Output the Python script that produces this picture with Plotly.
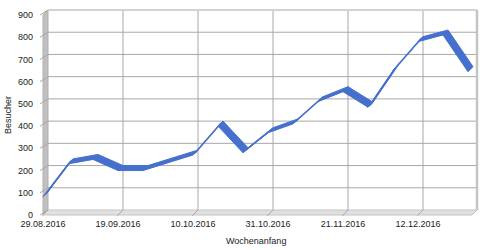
import plotly.graph_objects as go

# ---- data ----
week_labels = ["29.08.2016", "05.09.2016", "12.09.2016", "19.09.2016", "26.09.2016",
               "03.10.2016", "10.10.2016", "17.10.2016", "24.10.2016", "31.10.2016",
               "07.11.2016", "14.11.2016", "21.11.2016", "28.11.2016", "05.12.2016",
               "12.12.2016", "19.12.2016", "26.12.2016"]
visitors = [82, 230, 250, 200, 200, 235, 270, 400, 280, 370,
            410, 510, 555, 485, 650, 780, 810, 645]
y_ticks = [0, 100, 200, 300, 400, 500, 600, 700, 800, 900]
x_tick_idx = [0, 3, 6, 9, 12, 15]

FONT = "Liberation Sans, Arial, sans-serif"
FS = 9
TXT = "#222222"
BLUE = "#4670cd"
GRID = "#a8a8a8"

# 3D depth offset (in data units): 5px right, 5px up
DX = 0.2
DY = 22.5
YMAX = 900
XEND = len(week_labels) - 1 + 0.16   # front right edge of the floor

idx = list(range(len(visitors)))

fig = go.Figure()

# ---- ribbon (3D line) ----
px, py = [], []
for i in range(len(visitors) - 1):
    x0, x1 = idx[i], idx[i + 1]
    v0, v1 = visitors[i], visitors[i + 1]
    px += [x0, x1, x1 + DX, x0 + DX, x0, None]
    py += [v0, v1, v1 + DY, v0 + DY, v0, None]
fig.add_trace(go.Scatter(x=px, y=py, mode="lines", fill="toself",
                         fillcolor=BLUE, line=dict(color=BLUE, width=1),
                         hoverinfo="skip", showlegend=False))
# centre line so edge-on parts remain visible
fig.add_trace(go.Scatter(x=[i + DX / 2 for i in idx], y=[v + DY / 2 for v in visitors],
                         mode="lines", line=dict(color=BLUE, width=1.6),
                         hoverinfo="skip", showlegend=False))

shapes = []
# back wall
shapes.append(dict(type="rect", xref="x", yref="y", x0=DX, x1=XEND + DX, y0=DY, y1=YMAX + DY,
                   fillcolor="white", line=dict(width=0), layer="below"))
# left wall
shapes.append(dict(type="path", xref="x", yref="y",
                   path=f"M 0 0 L {DX} {DY} L {DX} {YMAX + DY} L 0 {YMAX} Z",
                   fillcolor="#c0c0c0", line=dict(color="#b0b0b0", width=1), layer="below"))
# floor
shapes.append(dict(type="path", xref="x", yref="y",
                   path=f"M 0 0 L {XEND} 0 L {XEND + DX} {DY} L {DX} {DY} Z",
                   fillcolor="#e0e0e0", line=dict(color="#c4c4c4", width=1), layer="below"))
# horizontal gridlines on back wall + diagonals on left wall
for v in y_ticks[1:-1]:
    shapes.append(dict(type="line", xref="x", yref="y", x0=DX, x1=XEND + DX,
                       y0=v + DY, y1=v + DY, line=dict(color=GRID, width=1), layer="below"))
for v in y_ticks:
    shapes.append(dict(type="line", xref="x", yref="y", x0=-0.12, x1=DX,
                       y0=v, y1=v + DY, line=dict(color=GRID, width=1), layer="below"))
# vertical gridlines on back wall + floor diagonals
for w in x_tick_idx[1:]:
    shapes.append(dict(type="line", xref="x", yref="y", x0=w + DX, x1=w + DX,
                       y0=DY, y1=YMAX + DY, line=dict(color=GRID, width=1), layer="below"))
for w in x_tick_idx:
    shapes.append(dict(type="line", xref="x", yref="y", x0=w + DX, x1=w - 0.03,
                       y0=DY, y1=-4, line=dict(color=GRID, width=1), layer="below"))
# top and right edge of back wall
shapes.append(dict(type="line", xref="x", yref="y", x0=DX, x1=XEND + DX,
                   y0=YMAX + DY, y1=YMAX + DY, line=dict(color="#d2d2d2", width=2), layer="below"))
shapes.append(dict(type="line", xref="x", yref="y", x0=XEND + DX, x1=XEND + DX,
                   y0=DY, y1=YMAX + DY, line=dict(color="#c4c4c4", width=2.5), layer="below"))

fig.update_layout(
    width=500, height=250,
    margin=dict(l=40, r=20, t=5, b=33),
    paper_bgcolor="white", plot_bgcolor="white",
    font=dict(family=FONT, size=FS, color=TXT),
    shapes=shapes,
    showlegend=False,
    xaxis=dict(range=[-0.12, 17.48], tickmode="array", tickvals=x_tick_idx,
               ticktext=[week_labels[i] for i in x_tick_idx],
               showgrid=False, zeroline=False, showline=False, ticks="",
               tickfont=dict(family=FONT, size=FS, color=TXT)),
    yaxis=dict(range=[-9, 945], tickmode="array", tickvals=y_ticks,
               showgrid=False, zeroline=False, showline=False, ticks="",
               ticklabelstandoff=6,
               tickfont=dict(family=FONT, size=FS, color=TXT)),
    annotations=[
        dict(text="Wochenanfang", x=8.5, y=0, xref="x", yref="paper", yshift=-24,
             yanchor="middle", showarrow=False, font=dict(family=FONT, size=FS, color=TXT)),
        dict(text="Besucher", x=0, y=450, xref="paper", yref="y", xanchor="center",
             xshift=-32, textangle=-90, showarrow=False,
             font=dict(family=FONT, size=FS, color=TXT)),
    ],
)

fig.write_html("out.html")
